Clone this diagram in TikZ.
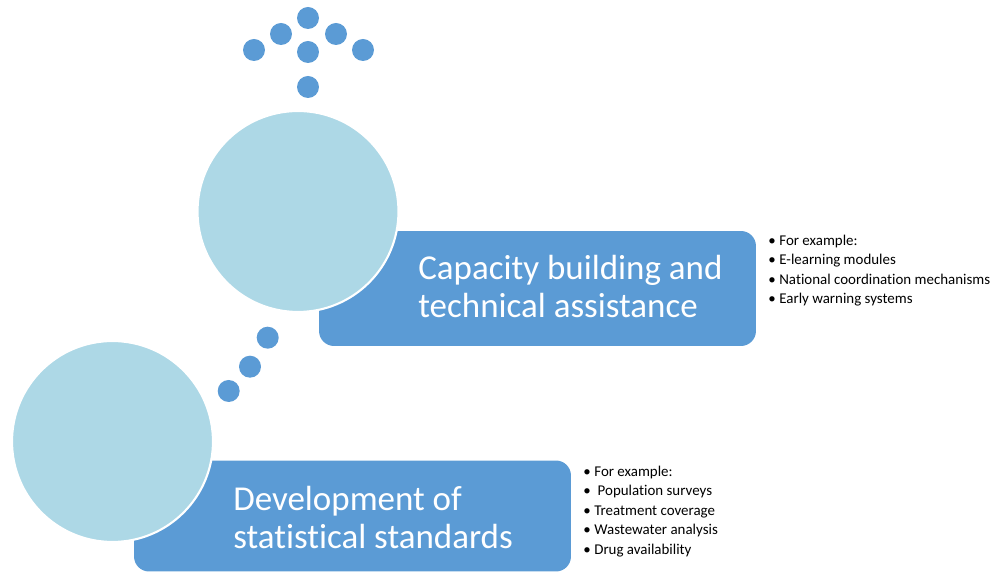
\documentclass[tikz,border=0pt]{standalone}
\usepackage{fontspec}
\setmainfont{Carlito}[Ligatures=NoCommon]
\usetikzlibrary{positioning}
\definecolor{bluebox}{RGB}{91,155,213}
\definecolor{bluelight}{RGB}{173,216,230}
\tikzset{
  hbox/.style={fill=bluebox, rounded corners=0.3cm, minimum width=8.74cm,
               minimum height=2.3cm, inner sep=0pt},
  bigdisc/.style={circle, fill=bluelight, draw=white, line width=1.2pt,
                  minimum size=4.02cm, inner sep=0pt},
  dot/.style={circle, fill=bluebox, minimum size=0.44cm, inner sep=0pt},
  htext/.style={anchor=base west, inner sep=0pt, align=left, text=white,
                font=\fontsize{19.9pt}{22.1pt}\selectfont},
  blist/.style={anchor=base west, inner sep=0pt, align=left,
                font=\fontsize{8.5pt}{11.1pt}\selectfont},
}
\newcommand{\bitem}[1]{\makebox[0.22cm][l]{\textbullet}#1}

\begin{document}
\begin{tikzpicture}[x=0.02cm, y=-0.02cm]
  \useasboundingbox (0,0) rectangle (995,573);
  % boxes behind the discs
  \node[hbox] (boxA) at (537.5,288.5) {};
  \node[hbox, minimum height=2.22cm] (boxB) at (352.5,516) {};
  \node[bigdisc] (discA) at (298,211.5) {};
  \node[bigdisc] (discB) at (112.5,441.5) {};
  % arrow of dots on top
  \node[dot] (t1) at (308,18) {};
  \node[dot] (t2) at (281,34) {};
  \node[dot] (t3) at (336,34) {};
  \node[dot] (t4) at (254,50) {};
  \node[dot] (t5) at (308,52) {};
  \node[dot] (t6) at (363,50) {};
  \node[dot] (t7) at (308,87) {};
  % dots between the two steps
  \node[dot] (m1) at (267.7,337.7) {};
  \node[dot] (m2) at (250,366.7) {};
  \node[dot] (m3) at (228.7,391) {};
  % titles (anchored on the last baseline)
  \node[htext] (capA) at (418,318) {Capacity building and\\technical assistance};
  \node[htext] (capB) at (233,549) {Development of\\statistical standards};
  % examples
  \node[blist] (listA) at (768,304) {\bitem{For example:}\\\bitem{E-learning modules}\\
    \bitem{National coordination mechanisms}\\\bitem{Early warning systems}};
  \node[blist] (listB) at (583,554.5) {\bitem{For example:}\\\bitem{ Population surveys}\\
    \bitem{Treatment coverage}\\\bitem{Wastewater analysis}\\\bitem{Drug availability}};
\end{tikzpicture}
\end{document}
